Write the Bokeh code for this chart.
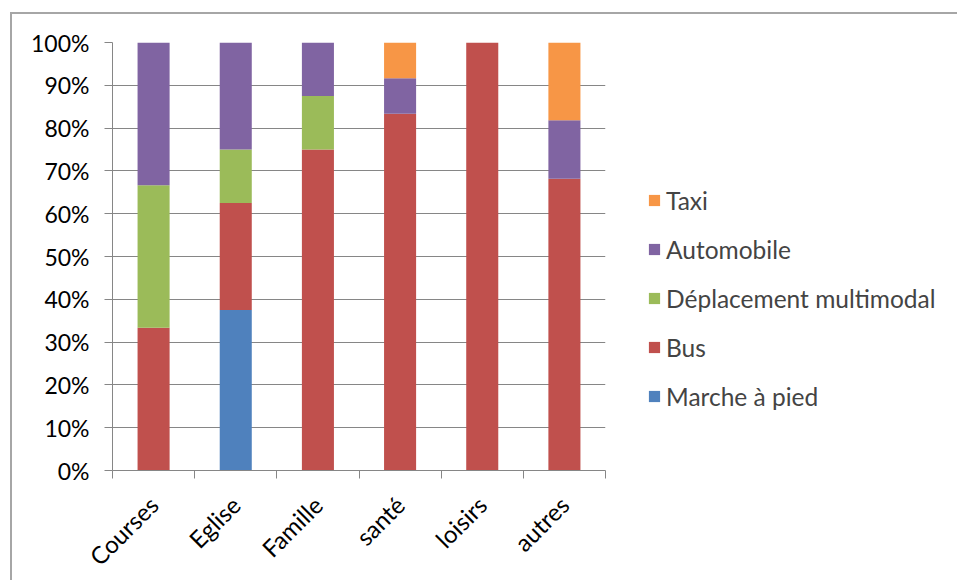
import math
from bokeh.plotting import figure
from bokeh.models import (Range1d, FixedTicker, NumeralTickFormatter, Legend, LegendItem,
                          ColumnDataSource)
from bokeh.embed import file_html
from bokeh.resources import INLINE

categories = ["Courses", "Eglise", "Famille", "santé", "loisirs", "autres"]
series = ["Marche à pied", "Bus", "Déplacement multimodal", "Automobile", "Taxi"]
marche = [0.0, 0.375, 0.0, 0.0, 0.0, 0.0]
bus = [0.3333, 0.25, 0.75, 0.8333, 1.0, 0.6818]
multimodal = [0.3333, 0.125, 0.125, 0.0, 0.0, 0.0]
automobile = [0.3334, 0.25, 0.125, 0.0833, 0.0, 0.1364]
taxi = [0.0, 0.0, 0.0, 0.0834, 0.0, 0.1818]
colors = ["#4F81BD", "#C0504D", "#9BBB59", "#8064A2", "#F79646"]
y_ticks = [i / 10 for i in range(11)]

FONT = "Lato"
GRID = "#868686"

xpos = [i + 0.5 for i in range(len(categories))]
data = {"x": xpos, "Marche à pied": marche, "Bus": bus,
        "Déplacement multimodal": multimodal, "Automobile": automobile, "Taxi": taxi}
src = ColumnDataSource(data)

p = figure(frame_width=493, frame_height=428, output_backend="svg", toolbar_location=None,
           x_range=Range1d(0, len(categories)), y_range=Range1d(0, 1),
           min_border_left=100, min_border_right=0, min_border_top=28, min_border_bottom=110)
p.styles = {"margin-left": "10px", "margin-top": "12px",
            "border-left": "2px solid #A6A6A6", "border-top": "2px solid #A6A6A6"}

renderers = p.vbar_stack(series, x="x", width=0.39, source=src, color=colors,
                         line_color=None)

p.outline_line_color = None
p.xgrid.grid_line_color = None
p.ygrid.grid_line_color = GRID
p.ygrid.grid_line_width = 1
p.ygrid.ticker = FixedTicker(ticks=y_ticks)

p.yaxis.ticker = FixedTicker(ticks=y_ticks)
p.yaxis.formatter = NumeralTickFormatter(format="0%")
p.yaxis.axis_line_color = GRID
p.yaxis.major_tick_line_color = GRID
p.yaxis.major_tick_out = 8
p.yaxis.major_tick_in = 0
p.yaxis.minor_tick_line_color = None
p.yaxis.major_label_text_font = FONT
p.yaxis.major_label_text_font_size = "23px"
p.yaxis.major_label_text_color = "black"
p.yaxis.major_label_standoff = 15

p.xaxis.ticker = FixedTicker(ticks=xpos, minor_ticks=list(range(len(categories) + 1)))
p.xaxis.major_label_overrides = {x: c for x, c in zip(xpos, categories)}
p.xaxis.axis_line_color = GRID
p.xaxis.major_tick_line_color = None
p.xaxis.minor_tick_line_color = GRID
p.xaxis.minor_tick_out = 8
p.xaxis.minor_tick_in = 0
p.xaxis.major_label_orientation = math.pi / 4
p.xaxis.major_label_text_font = FONT
p.xaxis.major_label_text_font_size = "24px"
p.xaxis.major_label_text_color = "black"
p.xaxis.major_label_standoff = 22

items = [LegendItem(label=s, renderers=[r]) for s, r in zip(series, renderers)][::-1]
legend = Legend(items=items, location=(42, 59), glyph_width=14, glyph_height=14,
                label_standoff=5, spacing=19, padding=0, margin=0,
                border_line_color=None, background_fill_alpha=0,
                label_text_font=FONT, label_text_font_size="24.5px", label_height=30)
p.add_layout(legend, "right")

open("out.html", "w").write(file_html(p, INLINE))
